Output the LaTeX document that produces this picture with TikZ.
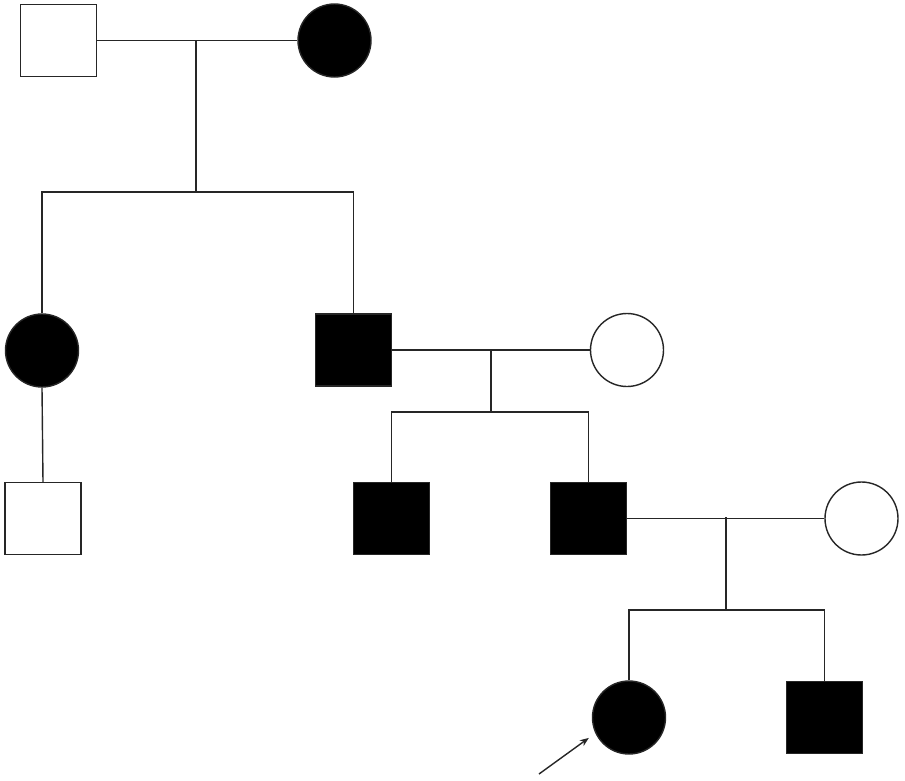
\documentclass[tikz,border=0pt]{standalone}
\usetikzlibrary{arrows.meta}
\begin{document}
\begin{tikzpicture}[x=1pt,y=-1pt,
  line/.style={line width=1.4pt, black!85},
  male/.style={rectangle, draw=black!85, line width=1.4pt, minimum width=76pt, minimum height=72pt, inner sep=0pt},
  female/.style={circle, draw=black!85, line width=1.4pt, minimum size=73pt, inner sep=0pt},
  aff/.style={fill=black},
  unaff/.style={fill=white}]
\useasboundingbox (0,0) rectangle (905,780);
% generation I
\node[male,unaff] (i1) at (58.5,40.5) {};
\node[female,aff] (i2) at (334.5,40.5) {};
% generation II
\node[female,aff] (ii1) at (42,350.5) {};
\node[male,aff] (ii2) at (353.5,350) {};
\node[female,unaff] (ii3) at (627,350) {};
% generation III
\node[male,unaff] (iii1) at (43,518.5) {};
\node[male,aff] (iii2) at (391.5,518.5) {};
\node[male,aff] (iii3) at (588.5,518.5) {};
\node[female,unaff] (iii4) at (861.5,518.5) {};
% generation IV
\node[female,aff] (iv1) at (629,717.5) {};
\node[male,aff] (iv2) at (824.5,717.5) {};
% marriage and sibship points
\coordinate (m1) at (196,41);
\coordinate (s1) at (196,192);
\coordinate (m2) at (491,351);
\coordinate (s2) at (491,412);
\coordinate (m3) at (726,517);
\coordinate (s3) at (726,610);
\coordinate (a0) at (539,774);
% lines
\draw[line] (i1.east) -- (i2.west);
\draw[line] (m1) -- (s1);
\draw[line] (ii1.north) |- (s1) -| (ii2.north);
\draw[line] (ii1.south) -- (iii1.north);
\draw[line] (ii2.east) -- (ii3.west);
\draw[line] (m2) -- (s2);
\draw[line] (iii2.north) |- (s2) -| (iii3.north);
\draw[line] (iii3.east) -- (iii4.west);
\draw[line] (m3) -- (s3);
\draw[line] (iv1.north) |- (s3) -| (iv2.north);
% proband arrow
\draw[line, -{Stealth[length=9pt,width=7pt]}, shorten >=8pt] (a0) -- (iv1.205);
\end{tikzpicture}
\end{document}
